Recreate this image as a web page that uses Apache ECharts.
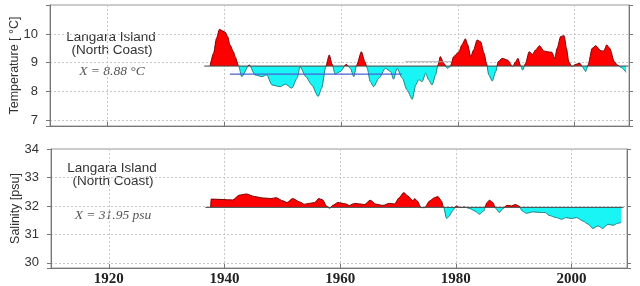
<!DOCTYPE html>
<html><head><meta charset="utf-8">
<script src="https://cdn.jsdelivr.net/npm/echarts@6/dist/echarts.min.js"></script>
<style>html,body{margin:0;padding:0;background:#fff}#c{width:640px;height:286px}</style>
</head><body><div id="c"></div>
<script>
// ---- data ----
const tempYears = [1937.6,1938.2,1938.7,1939.2,1939.8,1940.2,1940.6,1941.0,1941.6,1941.9,1942.5,1943.0,1944.3,1945.3,1946.5,1947.3,1948.2,1949.6,1950.5,1951.6,1952.5,1953.0,1954.0,1955.0,1956.1,1956.7,1957.4,1958.0,1958.5,1959.0,1959.9,1960.9,1961.6,1962.2,1962.7,1963.5,1964.1,1964.5,1965.0,1965.6,1966.5,1967.6,1968.5,1969.0,1969.6,1970.5,1971.3,1972.2,1972.8,1973.3,1973.9,1974.5,1975.0,1975.6,1976.2,1976.6,1977.0,1977.6,1978.2,1978.7,1979.3,1980.2,1980.7,1981.3,1981.7,1982.2,1982.7,1983.3,1983.9,1984.5,1984.9,1985.3,1985.9,1986.5,1986.9,1987.6,1988.5,1989.4,1989.9,1990.3,1990.7,1991.1,1991.6,1992.2,1992.8,1993.3,1994.0,1994.7,1995.3,1996.1,1996.6,1997.0,1997.6,1998.2,1998.6,1999.0,1999.5,2000.2,2000.9,2001.3,2001.9,2002.3,2003.0,2003.6,2004.5,2005.0,2005.5,2006.0,2006.8,2007.3,2008.0,2008.8];
const tempValues = [8.88,9.33,9.85,10.16,10.10,10.06,9.91,9.62,9.38,9.20,8.88,8.51,8.92,8.57,8.51,8.57,8.22,8.16,8.25,8.11,8.46,8.86,8.51,8.22,7.82,8.11,8.86,9.27,8.94,8.60,8.69,8.94,8.80,8.51,8.92,9.38,9.03,8.80,8.34,8.16,8.46,8.80,8.69,8.42,8.80,8.46,8.05,7.72,8.22,8.40,8.34,8.63,8.40,8.22,8.57,8.92,9.21,8.98,8.80,8.86,9.21,9.38,9.62,9.83,9.62,9.21,9.44,9.79,9.73,9.33,8.98,8.57,8.36,8.69,9.03,9.15,9.09,8.86,9.03,9.15,8.92,8.74,8.98,9.38,9.29,9.44,9.59,9.41,9.38,9.36,9.15,9.50,9.91,9.94,9.50,9.03,8.86,8.94,8.98,8.86,8.69,8.92,9.50,9.59,9.41,9.41,9.62,9.50,9.03,8.92,8.83,8.66];
const tempMean = 8.88;
const tempMeanSpan = [1936.6, 2009.2];
const tempRefLevel = 8.6;
const tempRefSpan = [1941.0, 1970.4];
const tempRefLevel2 = 9.03;
const tempRefSpan2 = [1971.0, 1979.0];

const salYears = [1937.6,1937.7,1941.4,1942.6,1943.8,1945.2,1946.6,1948.1,1948.9,1950.1,1950.8,1951.8,1953.0,1953.8,1954.7,1955.6,1956.3,1957.0,1957.6,1958.2,1958.7,1959.6,1960.8,1961.6,1962.5,1963.4,1964.2,1965.2,1966.2,1967.4,1968.5,1969.4,1970.2,1971.0,1971.7,1972.6,1972.9,1973.3,1974.0,1974.6,1975.5,1976.3,1976.9,1977.5,1977.9,1978.4,1978.8,1979.4,1980.1,1980.7,1981.5,1982.4,1983.3,1984.1,1984.8,1985.4,1985.8,1986.4,1986.9,1987.5,1988.2,1988.8,1989.6,1990.3,1990.9,1991.5,1992.2,1993.3,1994.8,1995.5,1996.1,1997.4,1998.3,1999.0,2000.0,2000.9,2002.0,2002.9,2003.7,2004.6,2005.4,2006.3,2007.2,2008.0,2008.6];
const salValues = [31.95,32.24,32.21,32.38,32.42,32.33,32.28,32.26,32.29,32.18,32.12,32.26,32.14,32.06,32.09,32.12,32.26,32.21,32.00,31.91,32.02,32.12,32.08,32.02,32.09,32.07,32.05,32.20,32.06,32.02,32.09,32.07,32.29,32.47,32.35,32.18,32.26,32.18,31.94,31.94,32.18,32.29,32.33,32.18,31.94,31.56,31.63,31.82,32.00,31.94,31.96,31.91,31.82,31.71,31.82,32.12,32.20,32.12,31.91,31.77,31.91,32.02,32.00,32.05,32.00,31.82,31.74,31.79,31.77,31.77,31.67,31.59,31.53,31.59,31.56,31.59,31.47,31.36,31.21,31.30,31.21,31.36,31.32,31.39,31.42];
const salMean = 31.95;
const salMeanSpan = [1936.7, 2009.0];

const xTickLabels = [1920, 1940, 1960, 1980, 2000];
const tempTickLabels = [7, 8, 9, 10];
const salTickLabels = [30, 31, 32, 33, 34];

// ---- build ----
const pairs = (xs, ys) => xs.map((x, i) => [x, ys[i]]);
const tempData = pairs(tempYears, tempValues);
const salData = pairs(salYears, salValues);
const isTick = (v, list) => list.some(t => Math.abs(v - t) < 1e-6);

const RED = '#ff0000', CYAN = '#19f5f5', RED_D = '#7a0000', CYAN_D = '#1f8080';
const gridLine = {show: true, lineStyle: {color: '#c8c8c8', type: [2, 2], width: 1}};
const TEMP_EXT = [6.79, 11.01], SAL_EXT = [29.82, 34];

function xAxisCfg(gi, min, max, showLabels) {
  return {
    type: 'value', gridIndex: gi, min: min, max: max, splitNumber: 5,
    axisLine: {show: true, lineStyle: {color: '#777', width: 1}},
    axisTick: {show: true, inside: true, length: 4, lineStyle: {color: '#777'}},
    splitLine: gridLine,
    axisLabel: showLabels ? {
      show: true, margin: 4, color: '#222', fontFamily: 'Liberation Serif',
      fontWeight: 'bold', fontSize: 15,
      formatter: v => isTick(v, xTickLabels) ? String(Math.round(v)) : ''
    } : {show: false}
  };
}
function yAxisCfg(gi, ext, labels, name, right) {
  return {
    type: 'value', gridIndex: gi, min: ext[0], max: ext[1], splitNumber: 4,
    position: right ? 'right' : 'left',
    name: right ? '' : name, nameLocation: 'middle', nameRotate: 90, nameGap: 29,
    nameMoveOverlap: false,
    nameTextStyle: {fontFamily: 'Liberation Sans', fontSize: 12.5, color: '#333'},
    axisLine: {show: true, lineStyle: {color: '#777', width: 1}},
    axisTick: {show: true, inside: false, length: 4, lineStyle: {color: '#777'}},
    splitLine: right ? {show: false} : gridLine,
    axisLabel: right ? {show: false} : {
      show: true, margin: 12, color: '#333', fontFamily: 'Liberation Sans', fontSize: 13,
      formatter: v => isTick(v, labels) ? String(Math.round(v)) : ''
    }
  };
}

function fillSeries(xi, yi, data, mean) {
  return {type: 'line', xAxisIndex: xi, yAxisIndex: yi, data: data, showSymbol: false, symbol: 'none',
    smooth: 0.25, smoothMonotone: 'x', lineStyle: {width: 0}, areaStyle: {origin: mean, opacity: 1},
    z: 2, silent: true, animation: false};
}
function outlineSeries(xi, yi, data) {
  return {type: 'line', xAxisIndex: xi, yAxisIndex: yi, data: data, showSymbol: false, symbol: 'none',
    smooth: 0.25, smoothMonotone: 'x', lineStyle: {width: 1}, z: 3, silent: true, animation: false};
}
function hline(xi, yi, span, level, color, w) {
  return {type: 'line', xAxisIndex: xi, yAxisIndex: yi, data: [[span[0], level], [span[1], level]],
    showSymbol: false, symbol: 'none', lineStyle: {color: color, width: w}, z: 4, silent: true, animation: false};
}
function vm(si, mean, ext, up, down) {
  return {type: 'piecewise', show: false, seriesIndex: si, dimension: 1,
    pieces: [{gt: mean, lte: ext[1], color: up}, {gte: ext[0], lte: mean, color: down}],
    outOfRange: {color: up}};
}

const option = {
  backgroundColor: '#fff',
  animation: false,
  grid: [
    {left: 50, top: 5, width: 579, height: 121, show: true, borderColor: '#999', borderWidth: 1, containLabel: false, outerBoundsMode: 'none'},
    {left: 51, top: 149, width: 576, height: 119, show: true, borderColor: '#999', borderWidth: 1, containLabel: false, outerBoundsMode: 'none'}
  ],
  xAxis: [xAxisCfg(0, 1910.2, 2009.3, false), xAxisCfg(1, 1910, 2009.6, true)],
  yAxis: [
    yAxisCfg(0, TEMP_EXT, tempTickLabels, 'Temperature [ °C]', false),
    yAxisCfg(0, TEMP_EXT, tempTickLabels, '', true),
    yAxisCfg(1, SAL_EXT, salTickLabels, 'Salinity [psu]', false),
    yAxisCfg(1, SAL_EXT, salTickLabels, '', true)
  ],
  visualMap: [
    vm(0, tempMean, TEMP_EXT, RED, CYAN), vm(1, tempMean, TEMP_EXT, RED_D, CYAN_D),
    vm(2, salMean, SAL_EXT, RED, CYAN), vm(3, salMean, SAL_EXT, RED_D, CYAN_D)
  ],
  series: [
    fillSeries(0, 0, tempData, tempMean),
    outlineSeries(0, 0, tempData),
    fillSeries(1, 2, salData, salMean),
    outlineSeries(1, 2, salData),
    hline(0, 0, tempMeanSpan, tempMean, '#444', 1),
    hline(0, 0, tempRefSpan, tempRefLevel, '#4a5fd0', 1.2),
    hline(0, 0, tempRefSpan2, tempRefLevel2, '#aaa', 1),
    hline(1, 2, salMeanSpan, salMean, '#444', 1)
  ],
  graphic: [
    {type: 'text', x: 111, y: 37, style: {text: 'Langara Island', align: 'center', verticalAlign: 'middle', fontFamily: 'Liberation Sans', fontSize: 13.5, fill: '#333'}},
    {type: 'text', x: 112, y: 50, style: {text: '(North Coast)', align: 'center', verticalAlign: 'middle', fontFamily: 'Liberation Sans', fontSize: 13.5, fill: '#333'}},
    {type: 'text', x: 112, y: 71, style: {text: 'X = 8.88 °C', align: 'center', verticalAlign: 'middle', fontFamily: 'Liberation Serif', fontStyle: 'italic', fontSize: 13.5, fill: '#555'}},
    {type: 'text', x: 112, y: 168, style: {text: 'Langara Island', align: 'center', verticalAlign: 'middle', fontFamily: 'Liberation Sans', fontSize: 13.5, fill: '#333'}},
    {type: 'text', x: 113, y: 181, style: {text: '(North Coast)', align: 'center', verticalAlign: 'middle', fontFamily: 'Liberation Sans', fontSize: 13.5, fill: '#333'}},
    {type: 'text', x: 113, y: 215, style: {text: 'X = 31.95 psu', align: 'center', verticalAlign: 'middle', fontFamily: 'Liberation Serif', fontStyle: 'italic', fontSize: 13.5, fill: '#555'}}
  ]
};
echarts.init(document.getElementById('c'), null, {renderer: 'canvas'}).setOption(option);
</script>
</body></html>
